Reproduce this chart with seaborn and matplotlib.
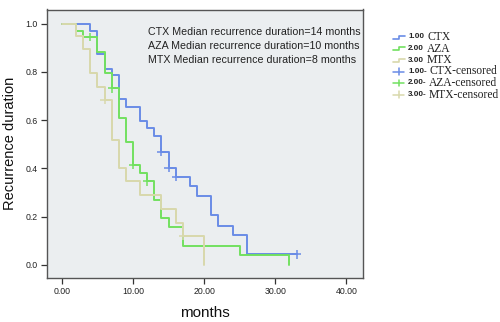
import numpy as np
import pandas as pd
import matplotlib
matplotlib.use("Agg")
import matplotlib.pyplot as plt
from matplotlib.lines import Line2D
import seaborn as sns

# Kaplan-Meier step data per treatment group
groups = ["CTX", "AZA", "MTX"]
codes = ["1.00", "2.00", "3.00"]

ctx_time = [0, 4, 5, 6, 7, 8, 9, 11, 12, 13, 14, 15, 16, 18, 19, 21, 22, 24, 26, 33]
ctx_surv = [1.0, 0.971, 0.875, 0.813, 0.786, 0.689, 0.655, 0.597, 0.566, 0.534,
            0.469, 0.402, 0.366, 0.328, 0.287, 0.208, 0.163, 0.126, 0.044, 0.044]
ctx_cens_time = [14, 15, 16, 33]
ctx_cens_surv = [0.469, 0.402, 0.366, 0.044]

aza_time = [0, 2, 3, 5, 6, 7, 8, 9, 10, 11, 12, 13, 14, 15, 17, 25, 32]
aza_surv = [1.0, 0.971, 0.944, 0.882, 0.793, 0.731, 0.607, 0.511, 0.414, 0.380,
            0.346, 0.270, 0.195, 0.158, 0.080, 0.043, 0.0]
aza_cens_time = [4, 7, 10, 12]
aza_cens_surv = [0.944, 0.731, 0.414, 0.346]

mtx_time = [0, 2, 3, 4, 5, 6, 7, 8, 9, 11, 14, 16, 17, 20]
mtx_surv = [1.0, 0.95, 0.896, 0.793, 0.737, 0.685, 0.518, 0.401, 0.346, 0.291,
            0.232, 0.174, 0.119, 0.0]
mtx_cens_time = [6, 17]
mtx_cens_surv = [0.685, 0.119]

medians = [14, 10, 8]
x_ticks = [0, 10, 20, 30, 40]
y_ticks = [0.0, 0.2, 0.4, 0.6, 0.8, 1.0]

colors = {"CTX": "#6A8CE6", "AZA": "#72E060", "MTX": "#D8D8AC"}

curves = pd.concat([
    pd.DataFrame({"months": ctx_time, "survival": ctx_surv, "group": "CTX"}),
    pd.DataFrame({"months": aza_time, "survival": aza_surv, "group": "AZA"}),
    pd.DataFrame({"months": mtx_time, "survival": mtx_surv, "group": "MTX"}),
], ignore_index=True)
censored = pd.concat([
    pd.DataFrame({"months": ctx_cens_time, "survival": ctx_cens_surv, "group": "CTX"}),
    pd.DataFrame({"months": aza_cens_time, "survival": aza_cens_surv, "group": "AZA"}),
    pd.DataFrame({"months": mtx_cens_time, "survival": mtx_cens_surv, "group": "MTX"}),
], ignore_index=True)

sns.set_theme(style="ticks")
plt.rcParams["font.family"] = ["Liberation Sans", "DejaVu Sans"]

W, H = 500, 322
fig = plt.figure(figsize=(W / 100, H / 100), dpi=100)
fig.patch.set_facecolor("white")
ax = fig.add_axes([47 / W, 1 - 278 / H, (362.7 - 47) / W, (278 - 9.5) / H])
ax.set_facecolor("#EBEEF0")

sns.lineplot(data=curves, x="months", y="survival", hue="group", hue_order=groups,
             palette=colors, drawstyle="steps-post", estimator=None, sort=False,
             linewidth=1.4, legend=False, ax=ax)
sns.scatterplot(data=censored, x="months", y="survival", hue="group", hue_order=groups,
                palette=colors, marker="+", s=36, linewidth=1.1, legend=False,
                ax=ax, zorder=3)

ax.set_xlim(-2.1, 42.3)
ax.set_ylim(-0.054, 1.058)
ax.set_xticks(x_ticks)
ax.set_xticklabels([f"{v:.2f}" for v in x_ticks])
ax.set_yticks(y_ticks)
ax.set_yticklabels([f"{v:.1f}" for v in y_ticks])
ax.tick_params(axis="both", labelsize=6.3, length=4.5, width=0.9, color="#333333",
               pad=2, labelcolor="#222222")
for sp in ax.spines.values():
    sp.set_visible(True)
    sp.set_color("#555555")
    sp.set_linewidth(1.0)
ax.set_xlabel("months", fontsize=11, labelpad=7, color="#111111")
ax.set_ylabel("Recurrence duration", fontsize=10.5, labelpad=6, color="#111111")

for i, (g, m) in enumerate(zip(groups, medians)):
    ax.text(0.32, 0.916 - i * 0.052, f"{g} Median recurrence duration={m} months",
            transform=ax.transAxes, fontsize=7.7, va="center", ha="left",
            color="#222222")

# Legend drawn in figure pixel space
def px(x, y):
    return x / W, 1 - y / H

rows = [37, 48.5, 60, 71.5, 83, 94.5]
for i, g in enumerate(groups):
    y = rows[i]
    xs = [393, 399, 399, 405]
    ys = [y + 1.5, y + 1.5, y - 1.5, y - 1.5]
    fig.add_artist(Line2D([v / W for v in xs], [1 - v / H for v in ys],
                          color=colors[g], lw=1.2, transform=fig.transFigure))
    fig.text(*px(408, y), codes[i], fontsize=5.8, fontweight="bold", va="center",
             ha="left", color="#222222")
    fig.text(*px(427, y), g, fontsize=8.3, va="center", ha="left",
             family=["Liberation Serif"], color="#222222")
for i, g in enumerate(groups):
    y = rows[3 + i]
    fig.add_artist(Line2D([393 / W, 404 / W], [1 - y / H, 1 - y / H],
                          color=colors[g], lw=1.1, transform=fig.transFigure))
    fig.add_artist(Line2D([398.5 / W, 398.5 / W], [1 - (y - 3.5) / H, 1 - (y + 3.5) / H],
                          color=colors[g], lw=1.1, transform=fig.transFigure))
    fig.text(*px(408, y), codes[i] + "-", fontsize=5.8, fontweight="bold", va="center",
             ha="left", color="#222222")
    fig.text(*px(429, y), f"{g}-censored", fontsize=8.3, va="center", ha="left",
             family=["Liberation Serif"], color="#222222")

fig.savefig("out.png", dpi=100, facecolor="white")
